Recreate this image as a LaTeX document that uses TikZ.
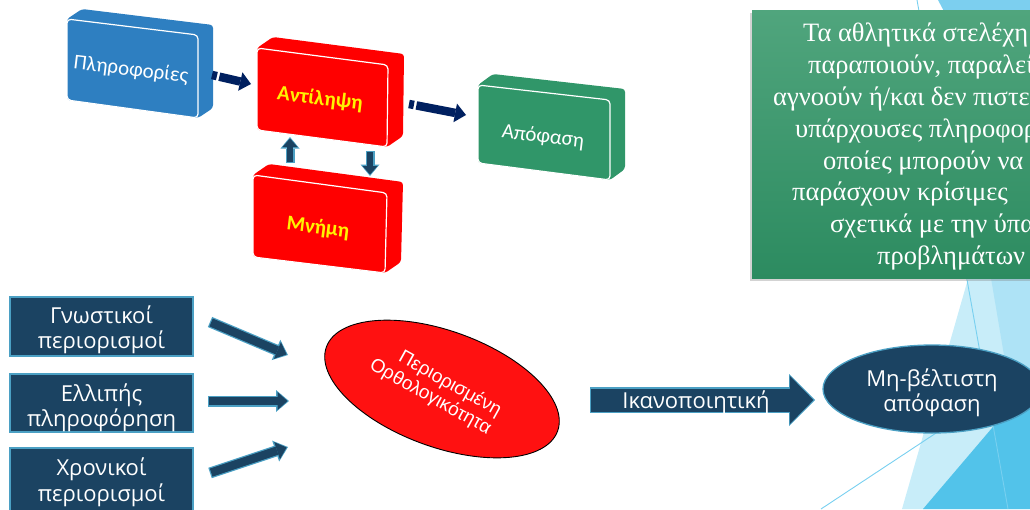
\documentclass[tikz,border=0pt]{standalone}
\usepackage{fontspec}
\setmainfont{Liberation Serif}
\newfontfamily\osans{Open Sans}
\newfontfamily\carl{Carlito}
\newfontfamily\lsans{Liberation Sans}
\usetikzlibrary{shapes.geometric,arrows.meta,calc,shadows}
\definecolor{cNavy}{RGB}{27,67,98}
\definecolor{lb}{RGB}{75,160,196}
\definecolor{sblue}{RGB}{0,32,96}
\definecolor{bbox}{RGB}{46,127,193}
\definecolor{gbox}{RGB}{48,150,105}
\definecolor{redB}{RGB}{255,0,0}
\definecolor{gtop}{RGB}{80,165,125}
\definecolor{gbot}{RGB}{44,139,96}
\definecolor{redA}{RGB}{255,17,17}
\definecolor{triA}{RGB}{200,237,249}
\definecolor{triB}{RGB}{174,227,246}
\definecolor{triC}{RGB}{124,207,239}
\definecolor{triD}{RGB}{82,195,234}
\definecolor{tlc}{RGB}{120,208,240}
\newcommand\tdbox[6]{%
  \fill[#1, rounded corners=3pt] (#2) -- ($(#2)+(#6)$) -- ($(#3)+(#6)$) -- ($(#4)+(#6)$) -- (#4) -- (#5) -- cycle;
  \filldraw[fill=#1, draw=white, line width=1.2pt, rounded corners=4pt] (#2) -- (#3) -- (#4) -- (#5) -- cycle;}
\begin{document}
\begin{tikzpicture}[x=1pt,y=-1pt,
  navybox/.style={rectangle, draw=lb, line width=1.3pt, fill=cNavy, minimum width=183pt, inner sep=0pt},
  wtxt/.style={text=white, font=\osans\fontsize{22}{26}\selectfont, inner sep=0pt, anchor=base},
  blbl/.style={font=\carl\fontsize{21}{24}\selectfont, inner sep=0pt, rotate=-7},
  ylbl/.style={font=\carl\bfseries\fontsize{21}{24}\selectfont, inner sep=0pt, rotate=-7, text=yellow},
  gline/.style={anchor=base west, text=white, font=\fontsize{26.5}{32}\selectfont, inner sep=0pt},
  sarr/.style={draw=sblue, line width=8.5pt, dash pattern=on 5pt off 2.5pt on 400pt, -{Triangle[length=11pt,width=19pt,line width=0pt]}},
  arrL/.style={draw=cNavy, line width=8.5pt, shorten >=1.5pt, shorten <=1.2pt, -{Triangle[length=10pt,width=18pt,line width=0pt]},
     preaction={draw=lb, line width=11pt, shorten >=0pt, shorten <=0pt, -{Triangle[length=13pt,width=22pt,line width=0pt]}}},
  arrV/.style={draw=cNavy, line width=6.5pt, shorten >=1.5pt, shorten <=1.2pt, -{Triangle[length=8.5pt,width=15pt,line width=0pt]},
     preaction={draw=lb, line width=9pt, shorten >=0pt, shorten <=0pt, -{Triangle[length=11.5pt,width=19pt,line width=0pt]}}},
  arrI/.style={draw=cNavy, line width=23pt, shorten >=1.6pt, shorten <=1.3pt, -{Triangle[length=23.5pt,width=48pt,line width=0pt]},
     preaction={draw=lb, line width=25.6pt, shorten >=0pt, shorten <=0pt, -{Triangle[length=26pt,width=52pt,line width=0pt]}}},
  tline/.style={draw=tlc, line width=0.9pt}
]
\useasboundingbox (0,0) rectangle (1030,509);
\clip (0,0) rectangle (1030,509);
% background facets
\fill[triA] (1048,0) -- (1070,0) -- (1070,509) -- (902,509) -- cycle;
\fill[triB] (944,0) -- (1070,0) -- (1070,509) -- (1030,509) -- cycle;
\fill[triC] (938,0) -- (1070,0) -- (1070,250) -- cycle;
\fill[triD] (923,509) -- (1130,266) -- (1130,509) -- cycle;
\draw[tline] (917,0) -- (1008,509);
\draw[tline] (821,509) -- (1030,371);
% green text box
\node[top color=gtop, bottom color=gbot, draw=none, minimum width=290pt, minimum height=268pt, anchor=north west, inner sep=0pt,
      drop shadow={shadow xshift=-2pt, shadow yshift=-3pt, opacity=.35}] (gb) at (752,10) {};
\node[gline] (g1) at (803,41.5) {Τα αθλητικά στελέχη};
\node[gline] (g2) at (808,73.3) {παραποιούν, παραλείπουν};
\node[gline] (g3) at (773,105) {αγνοούν ή/και δεν πιστεύουν};
\node[gline] (g4) at (795,137) {υπάρχουσες πληροφορίες};
\node[gline] (g5) at (823,169) {οποίες μπορούν να};
\node[gline] (g6) at (792,200.5) {παράσχουν κρίσιμες};
\node[gline] (g7) at (830,232) {σχετικά με την ύπαρξη};
\node[gline] (g8) at (877,264) {προβλημάτων};
% 3D boxes
\tdbox{bbox}{67,19}{198,35}{198,118}{67,100}{15,-10}
\node[blbl, text=white] (pl) at (131,70) {Πληροφορίες};
\tdbox{redB}{257,48}{388,65}{387,147}{257,130}{16,-11}
\node[ylbl] (an) at (320,99) {Αντίληψη};
\tdbox{redB}{253,175}{387,193}{385,273}{253,257}{16,-11}
\node[ylbl] (mn) at (318,228) {Μνήμη};
\tdbox{gbox}{478,85}{610,100}{610,180}{478,163}{15,-11}
\node[blbl, text=white] (ap) at (543,137) {Απόφαση};
% striped arrows
\coordinate (s1) at (212,75); \coordinate (e1) at (251,84);
\coordinate (s2) at (409,104); \coordinate (e2) at (466,115);
\draw[sarr] (s1) -- (e1);
\draw[sarr] (s2) -- (e2);
% vertical arrows
\coordinate (u1) at (290,163); \coordinate (u2) at (290,137);
\coordinate (d1) at (370,151); \coordinate (d2) at (370,176);
\draw[arrV] (u1) -- (u2);
\draw[arrV] (d1) -- (d2);
% left boxes
\node[navybox, minimum height=59pt] (b1) at (101.5,326.5) {};
\node[navybox, minimum height=58pt] (b2) at (101.5,403) {};
\node[navybox, minimum height=64pt] (b3) at (101.5,480) {};
\node[wtxt] (b1a) at (101.5,323) {Γνωστικοί};
\node[wtxt] (b1b) at (101.5,348) {περιορισμοί};
\node[wtxt] (b2a) at (101.5,401.7) {Ελλιπής};
\node[wtxt] (b2b) at (101.5,426.7) {πληροφόρηση};
\node[wtxt] (b3a) at (101.5,475) {Χρονικοί};
\node[wtxt] (b3b) at (101.5,501) {περιορισμοί};
% red ellipse
\node[ellipse, minimum width=246pt, minimum height=116pt, rotate=-20, fill=redA, draw=black, line width=0.9pt, inner sep=0pt] (ro) at (442,389) {};
\node[rotate=-29, anchor=east, text=white, align=right, font=\lsans\fontsize{19}{21}\selectfont, inner sep=0pt] (rot) at (495,421) {Περιορισμένη\\Ορθολογικότητα};
% left arrows
\coordinate (l1s) at (210,322); \coordinate (l1e) at (288,355);
\coordinate (l2s) at (208,401); \coordinate (l2e) at (289,401);
\coordinate (l3s) at (210,473); \coordinate (l3e) at (288,447);
\draw[arrL] (l1s) -- (l1e);
\draw[arrL] (l2s) -- (l2e);
\draw[arrL] (l3s) -- (l3e);
% satisfying arrow
\coordinate (ik1) at (590,400); \coordinate (ik2) at (815,400);
\draw[arrI] (ik1) -- (ik2);
\node[wtxt] (ikl) at (696,408) {Ικανοποιητική};
% final ellipse
\node[ellipse, minimum width=218pt, minimum height=88pt, fill=cNavy, draw=lb, line width=1.3pt, inner sep=0pt] (mb) at (932,389) {};
\node[wtxt] (mba) at (932,386.7) {Μη-βέλτιστη};
\node[wtxt] (mbb) at (932,411.7) {απόφαση};
\end{tikzpicture}
\end{document}
